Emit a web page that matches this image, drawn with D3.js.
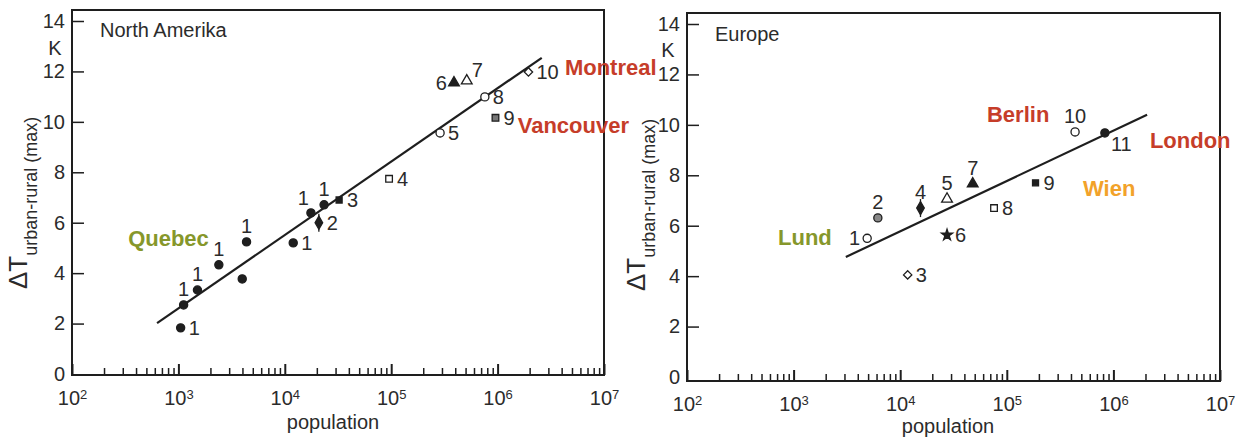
<!DOCTYPE html>
<html>
<head>
<meta charset="utf-8">
<script src="https://cdn.jsdelivr.net/npm/d3@7"></script>
<style>
  body { margin: 0; background: #fff; }
  svg text { font-family: "Liberation Sans", Arial, sans-serif; fill: #2b2b2b; }
</style>
</head>
<body>
<svg id="chart"></svg>
<script>
// ---- data ----
// North Amerika
var naPop = [1050, 1120, 1510, 2400, 4370, 3980, 12000, 17600, 23400, 20900, 32400, 95500, 288000, 389000, 513000, 759000, 955000, 1950000];
var naDT = [1.83, 2.74, 3.33, 4.33, 5.24, 3.77, 5.2, 6.39, 6.71, 6.0, 6.9, 7.74, 9.56, 11.55, 11.63, 10.99, 10.16, 11.98];
var naMarker = ["dot", "dot", "dot", "dot", "dot", "dot", "dot", "dot", "dot", "kite", "fsquare", "square", "circle", "tri", "otri", "circle", "hsquare", "odiamond"];
var naLabel = ["1", "1", "1", "1", "1", "", "1", "1", "1", "2", "3", "4", "5", "6", "7", "8", "9", "10"];
var naLabelPos = ["r", "t", "t", "t", "t", "r", "r", "tl", "t", "r", "r", "r", "r", "l", "tr", "r", "r", "r"];
var naFitPop = [630, 2600000];
var naFitDT = [2.02, 12.54];
var naCities = ["Montreal", "Vancouver", "Quebec"];
var naCityPop = [4290000, 1545000, 337];
var naCityDT = [12.18, 9.88, 5.4];
var naCityColor = ["red", "red", "olive"];

// Europe
var euPop = [4900, 6170, 11750, 15500, 27500, 27500, 47900, 75900, 186000, 437000, 832000];
var euDT = [5.5, 6.31, 4.05, 6.7, 7.06, 5.63, 7.66, 6.7, 7.7, 9.72, 9.68];
var euMarker = ["circle", "hcircle", "odiamond", "kite", "otri", "star", "tri", "square", "fsquare", "circle", "dot"];
var euLabel = ["1", "2", "3", "4", "5", "6", "7", "8", "9", "10", "11"];
var euLabelPos = ["l", "t", "r", "t", "t", "r", "t", "r", "r", "t", "br"];
var euFitPop = [3090, 2070000];
var euFitDT = [4.76, 10.4];
var euCities = ["Berlin", "London", "Wien", "Lund"];
var euCityPop = [65200, 2200000, 519000, 714];
var euCityDT = [10.4, 9.4, 7.5, 5.56];
var euCityColor = ["red", "red", "orange", "olive"];

var yTicks = [0, 2, 4, 6, 8, 10, 12, 14];
var xMajor = [1e2, 1e3, 1e4, 1e5, 1e6, 1e7];

var cityColors = { red: "#c63d29", olive: "#86972b", orange: "#f2a22a" };
var ink = "#1e1e1e";

var svg = d3.select("#chart").attr("width", 1239).attr("height", 439);

var minorTicks = [];
for (var k = 2; k <= 6; k++) {
  for (var m = 2; m <= 9; m++) minorTicks.push(m * Math.pow(10, k));
}

function drawPanel(p) {
  var x = d3.scaleLog().domain([1e2, 1e7]).range([p.x0, p.x1]);
  var y = d3.scaleLinear().domain([0, 14]).range([p.y0, p.y14]);
  var g = svg.append("g");

  // x axis: minor + major ticks pointing inward
  var gxm = g.append("g").attr("transform", `translate(0,${p.bottom})`)
    .call(d3.axisBottom(x).tickValues(minorTicks).tickSize(-7).tickFormat(""));
  gxm.select(".domain").remove();
  gxm.selectAll("line").attr("stroke", ink).attr("stroke-width", 1.5);

  var gx = g.append("g").attr("transform", `translate(0,${p.bottom})`)
    .call(d3.axisBottom(x).tickValues(xMajor).tickSize(-11).tickPadding(16).tickFormat(""));
  gx.select(".domain").remove();
  gx.selectAll("line").attr("stroke", ink).attr("stroke-width", 2);
  gx.selectAll("text")
    .attr("font-size", 20)
    .each(function (d) {
      var t = d3.select(this);
      t.text("10");
      t.append("tspan").attr("dy", "-0.45em").attr("font-size", 13).text(Math.round(Math.log10(d)));
    });

  // y axis
  var gy = g.append("g").attr("transform", `translate(${p.x0},0)`)
    .call(d3.axisLeft(y).tickValues(yTicks).tickSize(-12).tickPadding(7));
  gy.select(".domain").remove();
  gy.selectAll("line").attr("stroke", ink).attr("stroke-width", 1.5)
    .filter((d) => d === 0).remove();
  gy.selectAll("text").attr("font-size", 20);

  // frame
  g.append("rect")
    .attr("x", p.x0).attr("y", p.top)
    .attr("width", p.x1 - p.x0).attr("height", p.bottom - p.top)
    .attr("fill", "none").attr("stroke", ink).attr("stroke-width", 2);

  // unit, title, axis titles
  g.append("text").attr("x", p.kx).attr("y", p.ky).attr("text-anchor", "middle")
    .attr("font-size", 20).text("K");
  g.append("text").attr("x", p.x0 + 28).attr("y", p.titleY)
    .attr("font-size", 20).text(p.title);
  g.append("text").attr("x", p.popX).attr("y", p.popY).attr("text-anchor", "middle")
    .attr("font-size", 20).text("population");
  var yl = g.append("text")
    .attr("transform", `translate(${p.ylx},${p.yly}) rotate(-90)`);
  yl.append("tspan").attr("font-size", 26).text("\u0394T");
  yl.append("tspan").attr("font-size", 18).attr("dy", 10).text("urban-rural (max)");

  // regression line
  g.append("line")
    .attr("x1", x(p.fitPop[0])).attr("y1", y(p.fitDT[0]))
    .attr("x2", x(p.fitPop[1])).attr("y2", y(p.fitDT[1]))
    .attr("stroke", ink).attr("stroke-width", 2.2);

  // markers
  var pts = p.pop.map((v, i) => ({ pop: v, dt: p.dt[i], mk: p.marker[i], lb: p.label[i], pos: p.labelPos[i] }));
  var sym = {
    dot: [d3.symbolCircle, 52, ink, ink],
    circle: [d3.symbolCircle, 52, "#fff", ink],
    hcircle: [d3.symbolCircle, 52, "#888", ink],
    tri: [d3.symbolTriangle, 50, ink, ink],
    otri: [d3.symbolTriangle, 50, "#fff", ink],
    square: [d3.symbolSquare, 44, "#fff", ink],
    fsquare: [d3.symbolSquare, 36, ink, ink],
    hsquare: [d3.symbolSquare, 44, "#777", ink],
    odiamond: [d3.symbolDiamond2, 44, "#fff", ink],
    kite: [d3.symbolDiamond, 50, ink, ink],
    star: [d3.symbolStar, 38, ink, ink]
  };
  var mg = g.append("g");
  mg.selectAll("line.stem")
    .data(pts.filter((d) => d.mk === "kite"))
    .join("line").attr("class", "stem")
    .attr("x1", (d) => x(d.pop)).attr("x2", (d) => x(d.pop))
    .attr("y1", (d) => y(d.dt) - 9).attr("y2", (d) => y(d.dt) + 9)
    .attr("stroke", ink).attr("stroke-width", 1.3);
  mg.selectAll("path")
    .data(pts)
    .join("path")
    .attr("transform", (d) => `translate(${x(d.pop)},${y(d.dt)})`)
    .attr("d", (d) => d3.symbol().type(sym[d.mk][0]).size(sym[d.mk][1])())
    .attr("fill", (d) => sym[d.mk][2])
    .attr("stroke", (d) => sym[d.mk][3])
    .attr("stroke-width", 1.3);

  // point labels
  var off = {
    r: [8, 7, "start"], l: [-7, 7, "end"], t: [0, -9, "middle"],
    tl: [-2, -8, "end"], tr: [5, -4, "start"], br: [6, 18, "start"]
  };
  mg.selectAll("text")
    .data(pts.filter((d) => d.lb !== ""))
    .join("text")
    .attr("x", (d) => x(d.pop) + off[d.pos][0])
    .attr("y", (d) => y(d.dt) + off[d.pos][1])
    .attr("text-anchor", (d) => off[d.pos][2])
    .attr("font-size", 20)
    .text((d) => d.lb);

  // city annotations
  g.append("g").selectAll("text")
    .data(p.cities)
    .join("text")
    .attr("x", (d, i) => x(p.cityPop[i]))
    .attr("y", (d, i) => y(p.cityDT[i]))
    .attr("dy", "0.35em")
    .attr("font-size", 22)
    .attr("font-weight", "bold")
    .style("fill", (d, i) => cityColors[p.cityColor[i]])
    .text((d) => d);
}

drawPanel({
  x0: 72, x1: 604, y0: 374, y14: 21, top: 10, bottom: 375,
  title: "North Amerika", titleY: 37, kx: 55, ky: 55,
  popX: 333, popY: 429, ylx: 27, yly: 289,
  pop: naPop, dt: naDT, marker: naMarker, label: naLabel, labelPos: naLabelPos,
  fitPop: naFitPop, fitDT: naFitDT,
  cities: naCities, cityPop: naCityPop, cityDT: naCityDT, cityColor: naCityColor
});

drawPanel({
  x0: 687, x1: 1220, y0: 377, y14: 24, top: 13, bottom: 381,
  title: "Europe", titleY: 41, kx: 668, ky: 57,
  popX: 948, popY: 433, ylx: 645, yly: 291,
  pop: euPop, dt: euDT, marker: euMarker, label: euLabel, labelPos: euLabelPos,
  fitPop: euFitPop, fitDT: euFitDT,
  cities: euCities, cityPop: euCityPop, cityDT: euCityDT, cityColor: euCityColor
});
</script>
</body>
</html>
